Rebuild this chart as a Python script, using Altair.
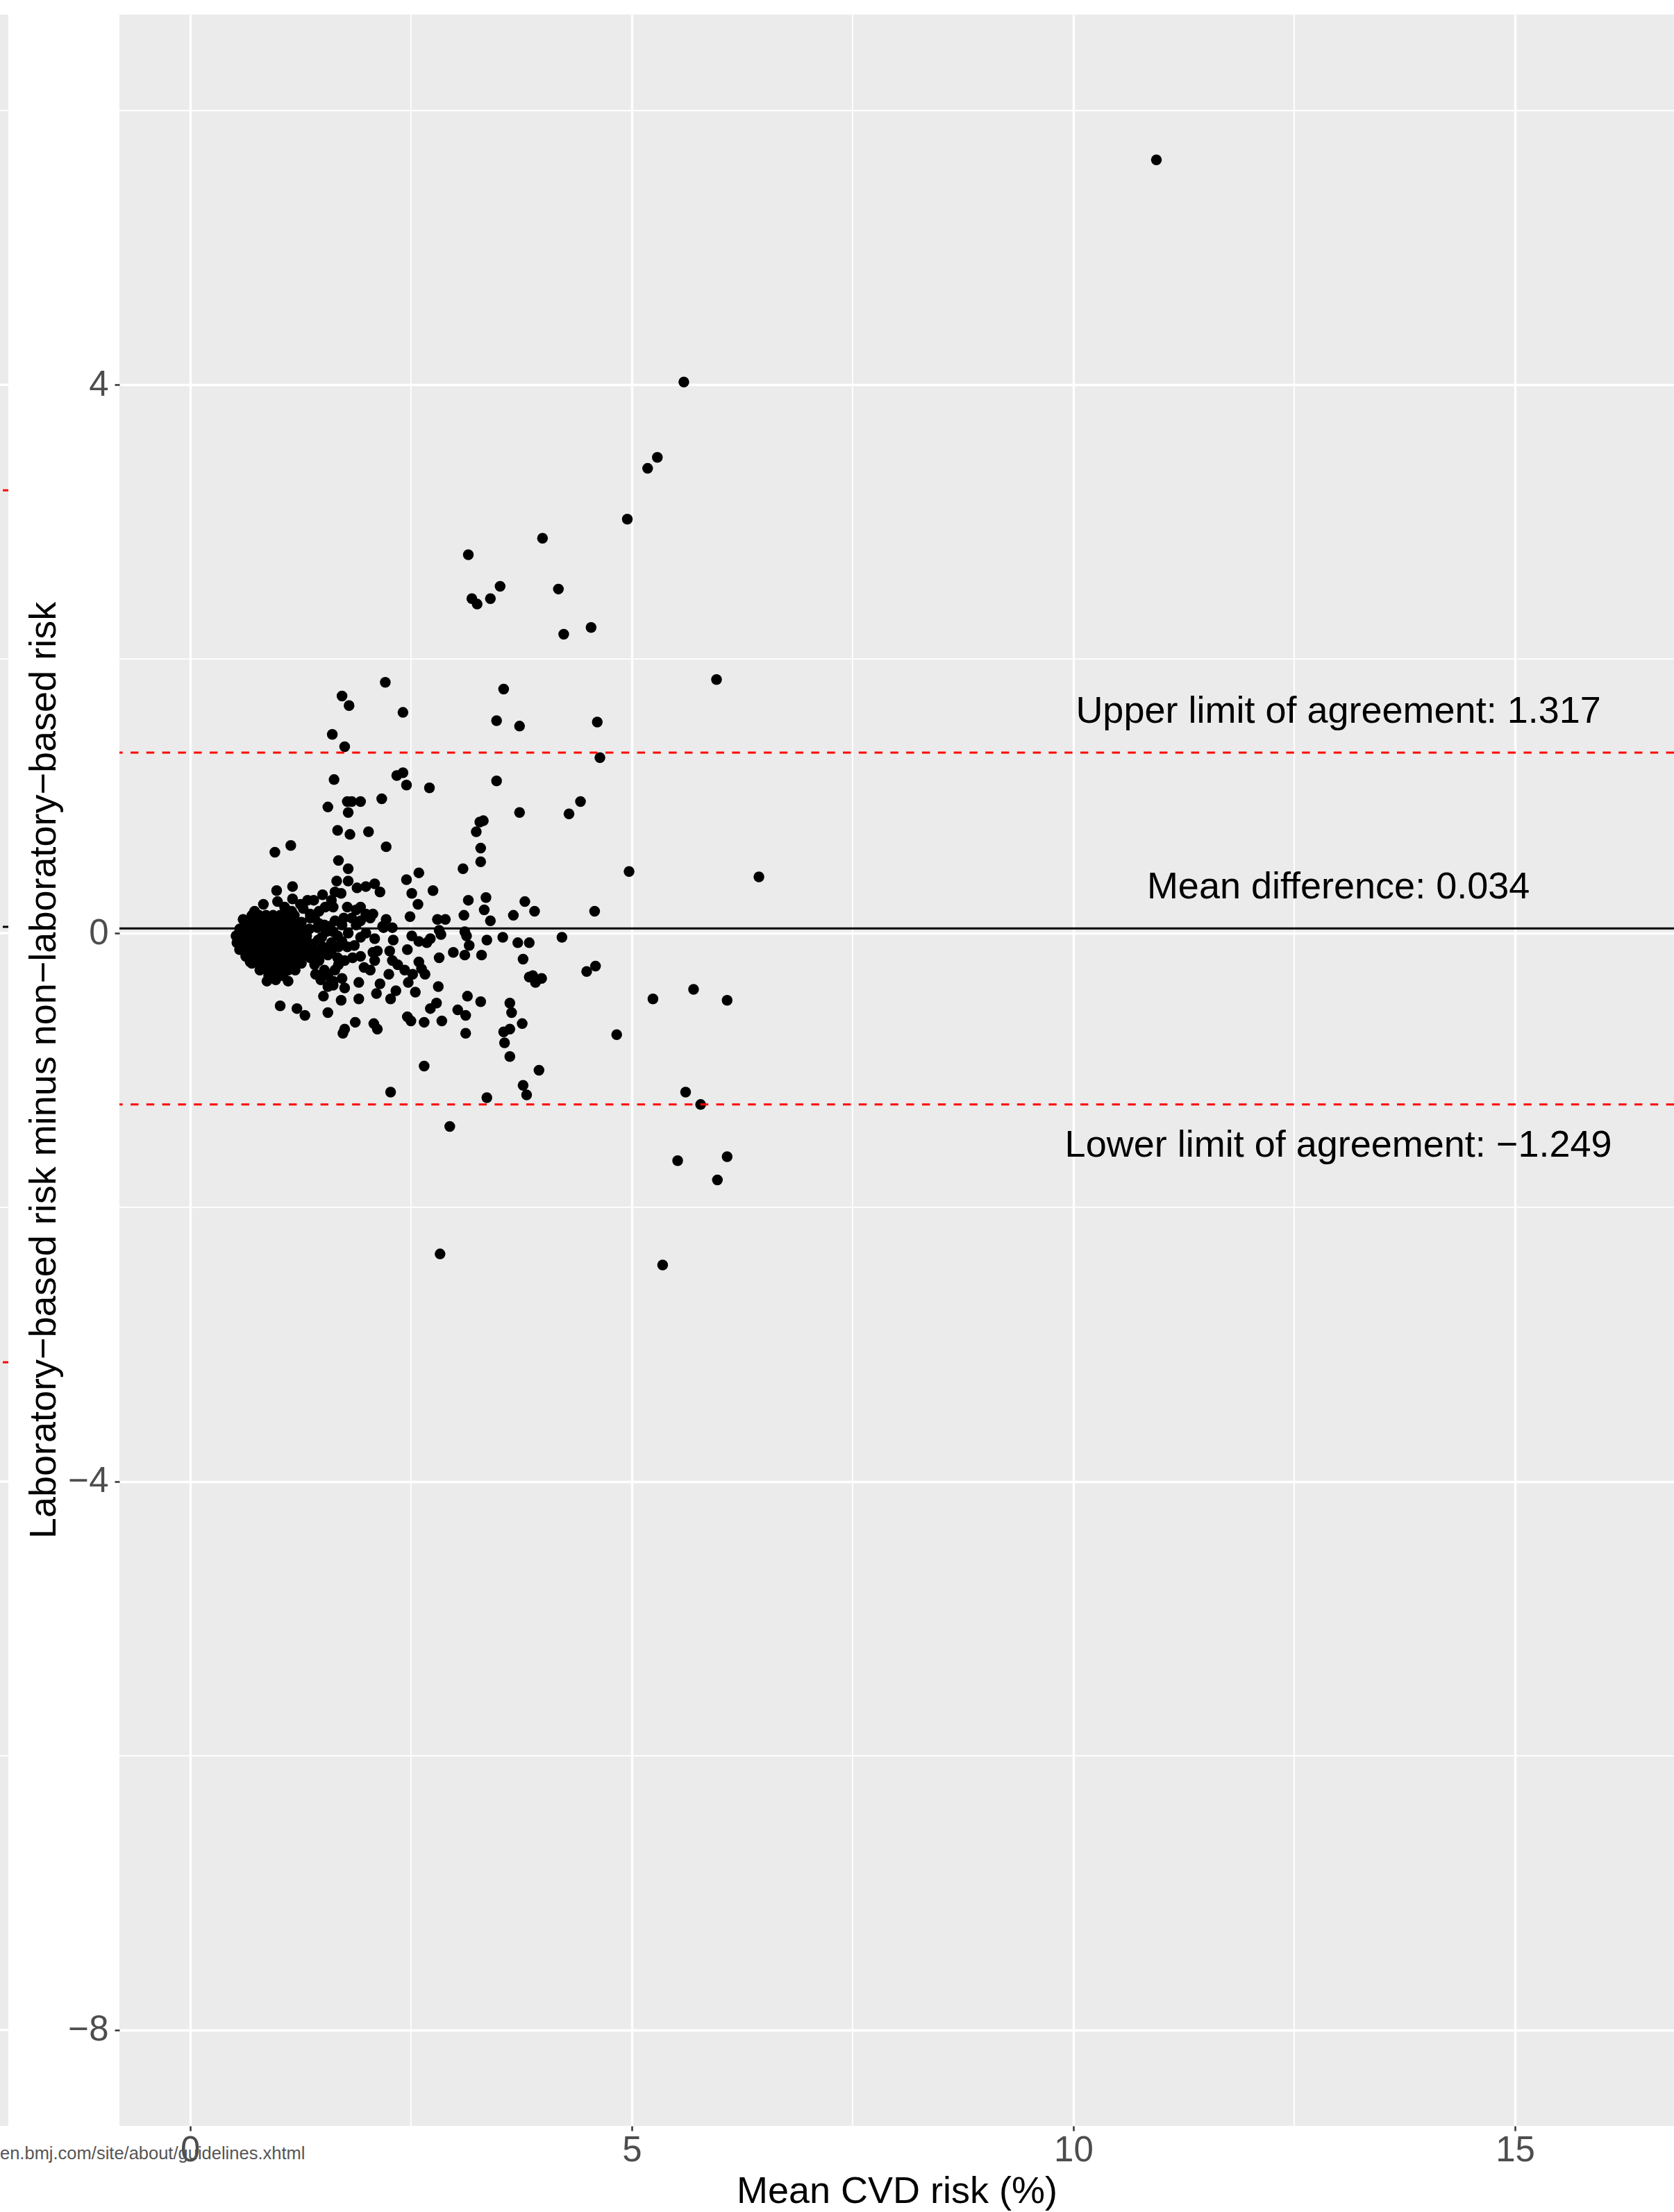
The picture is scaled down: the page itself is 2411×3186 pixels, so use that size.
import altair as alt
import pandas as pd

# Bland-Altman plot: mean CVD risk (%) against laboratory minus non-laboratory risk
points = [
    # sparse points
    (10.94, 5.64), (5.59, 4.02), (5.29, 3.47), (5.18, 3.39), (4.95, 3.02),
    (3.99, 2.88), (3.15, 2.76), (4.17, 2.51), (3.51, 2.53), (3.19, 2.44),
    (3.25, 2.40), (3.40, 2.44), (4.54, 2.23), (4.23, 2.18), (5.96, 1.85),
    (2.21, 1.83), (3.55, 1.78), (1.72, 1.73), (1.80, 1.66), (2.41, 1.61),
    (3.47, 1.55), (3.73, 1.51), (4.61, 1.54), (1.61, 1.45), (1.75, 1.36),
    (4.64, 1.28), (1.63, 1.12), (2.34, 1.15), (2.41, 1.17), (2.45, 1.08),
    (2.71, 1.06), (3.47, 1.11), (4.42, 0.96), (1.56, 0.92), (1.78, 0.96),
    (1.83, 0.96), (1.93, 0.96), (2.17, 0.98), (1.79, 0.88), (1.67, 0.75),
    (1.81, 0.72), (2.02, 0.74), (2.22, 0.63), (1.14, 0.64), (0.96, 0.59),
    (1.68, 0.53), (1.79, 0.47), (3.32, 0.82), (3.28, 0.81), (3.24, 0.74),
    (3.29, 0.62), (3.29, 0.52), (3.09, 0.47), (3.73, 0.88), (4.29, 0.87),
    (2.59, 0.44), (2.45, 0.39), (2.51, 0.29), (2.75, 0.31), (2.58, 0.21),
    (3.15, 0.24), (3.35, 0.26), (3.33, 0.17), (3.40, 0.09), (3.10, 0.13),
    (4.97, 0.45), (6.44, 0.41), (3.79, 0.23), (3.66, 0.13), (3.90, 0.16),
    (4.58, 0.16), (2.49, 0.12), (2.22, 0.10), (2.80, 0.10), (2.89, 0.10),
    (3.11, 0.01), (3.13, -0.02), (3.16, -0.09), (3.36, -0.05), (3.54, -0.03),
    (3.71, -0.07), (3.84, -0.07), (4.21, -0.03), (2.98, -0.14), (3.11, -0.16),
    (3.30, -0.16), (2.82, -0.18), (2.84, -0.01), (2.82, 0.02), (2.51, -0.02),
    (2.59, -0.06), (2.68, -0.07), (2.72, -0.04), (2.29, 0.04), (2.19, 0.04),
    (2.30, -0.05), (2.26, -0.13), (2.46, -0.12), (2.29, -0.20), (2.35, -0.23),
    (2.25, -0.30), (2.43, -0.27), (2.59, -0.21), (2.66, -0.30), (2.62, -0.26),
    (2.52, -0.30), (2.47, -0.36), (2.81, -0.39), (2.55, -0.43), (2.33, -0.42),
    (2.27, -0.48), (2.15, -0.37), (2.11, -0.44), (3.14, -0.46), (3.29, -0.50),
    (2.79, -0.51), (2.72, -0.55), (3.03, -0.56), (3.12, -0.60), (2.85, -0.64),
    (2.65, -0.65), (2.46, -0.61), (2.50, -0.64), (3.12, -0.73), (2.65, -0.97),
    (3.77, -0.19), (4.59, -0.24), (4.49, -0.28), (3.84, -0.32), (3.88, -0.31),
    (3.91, -0.36), (3.98, -0.33), (5.24, -0.48), (5.70, -0.41), (6.08, -0.49),
    (3.62, -0.51), (3.64, -0.58), (3.76, -0.66), (3.55, -0.72), (3.62, -0.70),
    (3.56, -0.80), (3.62, -0.90), (4.83, -0.74), (3.95, -1.00), (2.27, -1.16),
    (3.36, -1.20), (2.94, -1.41), (2.83, -2.34), (3.77, -1.11), (3.81, -1.18),
    (5.61, -1.16), (5.78, -1.25), (5.52, -1.66), (6.08, -1.63), (5.97, -1.80),
    (5.35, -2.42), (1.91, -0.36), (1.91, -0.48), (1.71, -0.49), (1.51, -0.46),
    (1.56, -0.58), (1.87, -0.65), (2.08, -0.66), (2.12, -0.70), (1.75, -0.70),
    (1.73, -0.73), (1.02, -0.53), (1.21, -0.55), (1.30, -0.60), (1.75, -0.40),
    (1.72, -0.33), (1.62, -0.35), (1.56, -0.39), (1.93, -0.17), (1.84, -0.18),
    (1.75, -0.20), (1.68, -0.23), (1.97, -0.25), (2.04, -0.27), (2.09, -0.20),
    (2.07, -0.14), (2.12, -0.13), (2.09, -0.04), (1.99, 0.00), (1.93, -0.03),
    (1.86, -0.09), (1.78, -0.10), (2.07, 0.14), (1.99, 0.14), (1.93, 0.19),
    (1.88, 0.17), (1.89, 0.33), (1.99, 0.34), (2.09, 0.36), (2.15, 0.30),
    (1.79, 0.38), (1.66, 0.38), (1.64, 0.30), (1.71, 0.29), (1.50, 0.28),
    (1.78, 0.19), (1.74, 0.11), (1.64, 0.09), (1.62, 0.19), (1.60, 0.24),
    (1.16, 0.34), (0.98, 0.31), (1.40, 0.24), (1.33, 0.24), (1.25, 0.21),
    (1.16, 0.25), (1.53, 0.19), (1.46, 0.16), (1.36, 0.14), (1.28, 0.18),
    (0.83, 0.21), (0.73, 0.16), (0.60, 0.10), (0.99, 0.23), (1.07, 0.19),
    (1.15, 0.16), (0.68, -0.21), (0.87, -0.35), (0.97, -0.34), (1.11, -0.35),
    (1.36, -0.18), (1.46, -0.20), (1.41, -0.23), (1.52, -0.27), (1.56, -0.30),
    (1.49, -0.03), (1.45, -0.05), (1.54, 0.01), (1.60, -0.07), (1.62, 0.01),
    (1.67, -0.02), (1.68, -0.10), (1.46, 0.07), (1.52, 0.06), (1.58, 0.05),
    (1.41, 0.11), (1.36, 0.11), (1.40, -0.12), (1.44, -0.15), (1.52, -0.14),
    (1.72, -0.06), (1.60, -0.13), (1.67, -0.18), (1.44, 0.04), (1.79, 0.00),
    (1.72, 0.06), (1.88, 0.06), (1.93, 0.09), (2.04, 0.11), (1.83, 0.11),
    (1.53, -0.30), (1.60, -0.35), (1.62, -0.38), (2.18, 0.05), (1.38, -0.08),
    (1.50, -0.10), (1.56, -0.16), (1.64, -0.27), (1.48, -0.34), (1.42, -0.30),
    # dense cluster of low-risk participants
    (0.70, 0.13), (0.78, 0.13), (0.86, 0.13), (0.94, 0.13), (1.02, 0.13),
    (1.10, 0.13), (1.18, 0.13),
    (0.62, 0.08), (0.70, 0.08), (0.78, 0.08), (0.86, 0.08), (0.94, 0.08),
    (1.02, 0.08), (1.10, 0.08), (1.18, 0.08), (1.26, 0.08),
    (0.56, 0.03), (0.64, 0.03), (0.72, 0.03), (0.80, 0.03), (0.88, 0.03),
    (0.96, 0.03), (1.04, 0.03), (1.12, 0.03), (1.20, 0.03), (1.28, 0.03),
    (1.35, 0.03),
    (0.52, -0.02), (0.60, -0.02), (0.68, -0.02), (0.76, -0.02), (0.84, -0.02),
    (0.92, -0.02), (1.00, -0.02), (1.08, -0.02), (1.16, -0.02), (1.24, -0.02),
    (1.32, -0.02),
    (0.53, -0.07), (0.61, -0.07), (0.69, -0.07), (0.77, -0.07), (0.85, -0.07),
    (0.93, -0.07), (1.01, -0.07), (1.09, -0.07), (1.17, -0.07), (1.25, -0.07),
    (1.33, -0.07),
    (0.56, -0.12), (0.64, -0.12), (0.72, -0.12), (0.80, -0.12), (0.88, -0.12),
    (0.96, -0.12), (1.04, -0.12), (1.12, -0.12), (1.20, -0.12), (1.28, -0.12),
    (1.35, -0.12),
    (0.63, -0.17), (0.71, -0.17), (0.79, -0.17), (0.87, -0.17), (0.95, -0.17),
    (1.03, -0.17), (1.11, -0.17), (1.19, -0.17), (1.27, -0.17),
    (0.70, -0.22), (0.78, -0.22), (0.86, -0.22), (0.94, -0.22), (1.02, -0.22),
    (1.10, -0.22), (1.18, -0.22), (1.26, -0.22),
    (0.79, -0.27), (0.87, -0.27), (0.95, -0.27), (1.03, -0.27), (1.11, -0.27),
    (1.19, -0.27),
    (0.89, -0.31), (0.97, -0.31), (1.05, -0.31),
]

# limits of agreement and mean difference
line_names = ["Upper limit of agreement", "Mean difference", "Lower limit of agreement"]
line_values = [1.317, 0.034, -1.249]
line_kinds = ["limit", "mean", "limit"]

x_ticks = [0, 5, 10, 15]
x_minor = [2.5, 7.5, 12.5]
y_ticks = [-8, -4, 0, 4]
y_minor = [-6, -2, 2, 6]

# edge of the neighbouring panel on the left
neighbour_lines = [3.23, 0.046, -3.13]
neighbour_colors = ["#FF0000", "#000000", "#FF0000"]

source_note = "en.bmj.com/site/about/guidelines.xhtml"

FONT = "Liberation Sans"
W, H = 2239, 3041

pts = pd.DataFrame(points, columns=["mean_risk", "diff"])
lines = pd.DataFrame({"name": line_names, "value": line_values, "kind": line_kinds})
lines["label"] = [
    f"{n}: {v:.3f}".replace("-", "\u2212") for n, v in zip(line_names, line_values)
]
lines["label_y"] = [v + (0.3 if v >= 0 else -0.3) for v in line_values]
lines["label_x"] = 13.0

x_scale = alt.Scale(domain=[-0.8, 16.8], nice=False, zero=False)
y_scale = alt.Scale(domain=[-8.7, 6.7], nice=False, zero=False)

x_axis = alt.Axis(
    values=x_ticks, format="d", grid=True, gridColor="white", gridWidth=3.4,
    domain=False, tickSize=7, tickWidth=2.5, tickColor="#333333",
    labelFont=FONT, labelFontSize=51, labelColor="#4D4D4D", labelPadding=3,
    title="Mean CVD risk (%)", titleFont=FONT, titleFontSize=54,
    titleFontWeight="normal", titleColor="black",
    titleBaseline="alphabetic", titleY=110,
)
y_axis = alt.Axis(
    values=y_ticks, format="d", grid=True, gridColor="white", gridWidth=3.4,
    domain=False, tickSize=7, tickWidth=2.5, tickColor="#333333",
    labelFont=FONT, labelFontSize=51, labelColor="#4D4D4D", labelPadding=9,
    title="Laboratory\u2212based risk minus non\u2212laboratory\u2212based risk",
    titleFont=FONT, titleFontSize=54, titleFontWeight="normal", titleColor="black",
    titleAngle=270, titleBaseline="alphabetic", titleAlign="center",
    titleX=-93, titleY=1520,
)

base = alt.Chart(pts)

scatter = base.mark_circle(size=240, color="black", opacity=1).encode(
    x=alt.X("mean_risk:Q", scale=x_scale, axis=x_axis),
    y=alt.Y("diff:Q", scale=y_scale, axis=y_axis),
)

minor_x = alt.Chart(pd.DataFrame({"v": x_minor})).mark_rule(
    color="white", strokeWidth=1.8
).encode(x=alt.X("v:Q", scale=x_scale))
minor_y = alt.Chart(pd.DataFrame({"v": y_minor})).mark_rule(
    color="white", strokeWidth=1.8
).encode(y=alt.Y("v:Q", scale=y_scale))

# sliver of the adjacent panel
strip = alt.Chart(pd.DataFrame({"a": [0]})).mark_rect(color="#EBEBEB").encode(
    x=alt.value(-172), x2=alt.value(-160), y=alt.value(0), y2=alt.value(H)
)
strip_grid = alt.Chart(
    pd.DataFrame({"v": y_ticks + y_minor, "w": [3.4] * 4 + [1.8] * 4})
).mark_rule(color="white").encode(
    y=alt.Y("v:Q", scale=y_scale), x=alt.value(-172), x2=alt.value(-160),
    strokeWidth=alt.StrokeWidth("w:Q", scale=None),
)
strip_lines = alt.Chart(
    pd.DataFrame({"v": neighbour_lines, "c": neighbour_colors})
).mark_rule(strokeWidth=3).encode(
    y=alt.Y("v:Q", scale=y_scale), x=alt.value(-168), x2=alt.value(-160),
    color=alt.Color("c:N", scale=None),
)

mean_rule = alt.Chart(lines[lines.kind == "mean"]).mark_rule(
    color="black", strokeWidth=3
).encode(y=alt.Y("value:Q", scale=y_scale))
limit_rules = alt.Chart(lines[lines.kind == "limit"]).mark_rule(
    color="#FF0000", strokeWidth=3, strokeDash=[11.4, 11.4]
).encode(y=alt.Y("value:Q", scale=y_scale))

labels = alt.Chart(lines).mark_text(
    font=FONT, fontSize=54, color="black", align="center", baseline="middle"
).encode(
    x=alt.X("label_x:Q", scale=x_scale),
    y=alt.Y("label_y:Q", scale=y_scale),
    text="label:N",
)

note = alt.Chart(pd.DataFrame({"t": [source_note]})).mark_text(
    font=FONT, fontSize=25.5, color="#555555", align="left", baseline="alphabetic",
).encode(x=alt.value(-172), y=alt.value(3089), text="t:N")

chart = alt.layer(
    minor_x, minor_y, strip, strip_grid, strip_lines,
    scatter, mean_rule, limit_rules, labels, note,
).properties(
    width=W, height=H,
    autosize=alt.AutoSizeParams(type="none"),
    padding={"left": 172, "top": 21, "right": 0, "bottom": 124},
    background="white",
).configure_view(
    fill="#EBEBEB", stroke=None
)

chart.save("out.html", embed_options={"renderer": "svg", "actions": False})
